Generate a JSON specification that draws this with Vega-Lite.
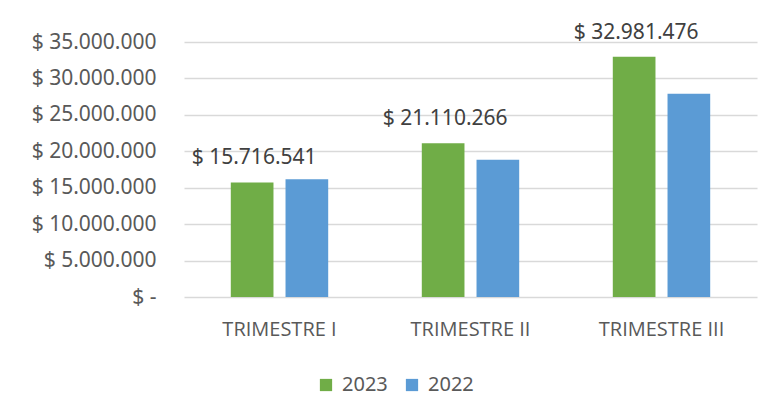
{
  "$schema": "https://vega.github.io/schema/vega-lite/v6.json",
  "autosize": {"type": "none"},
  "padding": {"left": 184, "top": 42, "right": 17, "bottom": 115},
  "width": 573,
  "height": 255,
  "background": "white",
  "data": {
    "values": [
      {"trimestre": "TRIMESTRE I", "year": "2023", "value": 15716541},
      {"trimestre": "TRIMESTRE I", "year": "2022", "value": 16160000},
      {"trimestre": "TRIMESTRE II", "year": "2023", "value": 21110266},
      {"trimestre": "TRIMESTRE II", "year": "2022", "value": 18840000},
      {"trimestre": "TRIMESTRE III", "year": "2023", "value": 32981476},
      {"trimestre": "TRIMESTRE III", "year": "2022", "value": 27880000}
    ]
  },
  "encoding": {
    "x": {
      "field": "trimestre",
      "type": "nominal",
      "sort": ["TRIMESTRE I", "TRIMESTRE II", "TRIMESTRE III"],
      "scale": {"paddingInner": 0.49, "paddingOuter": 0.245},
      "axis": {
        "title": null,
        "labelAngle": 0,
        "domain": false,
        "ticks": false,
        "labelPadding": 22,
        "labelFont": "Open Sans",
        "labelFontSize": 20,
        "labelColor": "#595959"
      }
    },
    "xOffset": {
      "field": "year",
      "type": "nominal",
      "sort": ["2023", "2022"],
      "scale": {"paddingInner": 0.22, "paddingOuter": 0}
    },
    "y": {
      "field": "value",
      "type": "quantitative",
      "scale": {"domain": [0, 35000000], "nice": false},
      "axis": {
        "title": null,
        "values": [0, 5000000, 10000000, 15000000, 20000000, 25000000, 30000000, 35000000],
        "domain": false,
        "ticks": false,
        "labelPadding": 28,
        "labelFont": "Noto Sans",
        "labelFontSize": 21,
        "labelColor": "#595959",
        "gridColor": "#d9d9d9",
        "gridWidth": 1.3,
        "labelExpr": "datum.value == 0 ? '$ -' : '$ ' + replace(replace(format(datum.value, ',.0f'), ',', '.'), ',', '.')"
      }
    }
  },
  "layer": [
    {
      "mark": {"type": "bar"},
      "encoding": {
        "color": {
          "field": "year",
          "type": "nominal",
          "sort": ["2023", "2022"],
          "scale": {"domain": ["2023", "2022"], "range": ["#70AD47", "#5B9BD5"]},
          "legend": {
            "title": null,
            "orient": "none",
            "direction": "horizontal",
            "legendX": 132,
            "legendY": 333,
            "symbolType": "square",
            "symbolSize": 150,
            "symbolStrokeWidth": 0,
            "labelFont": "Noto Sans",
            "labelFontSize": 20,
            "labelColor": "#595959",
            "labelOffset": 6,
            "columnPadding": 14
          }
        }
      }
    },
    {
      "transform": [
        {"filter": "datum.year == '2023'"},
        {"calculate": "'$ ' + replace(replace(format(datum.value, ',.0f'), ',', '.'), ',', '.')", "as": "label"}
      ],
      "mark": {
        "type": "text",
        "baseline": "alphabetic",
        "align": "center",
        "dy": -18,
        "dx": 2,
        "font": "Noto Sans",
        "fontSize": 21,
        "color": "#404040"
      },
      "encoding": {
        "text": {"field": "label"}
      }
    }
  ],
  "config": {
    "view": {"stroke": null}
  }
}
